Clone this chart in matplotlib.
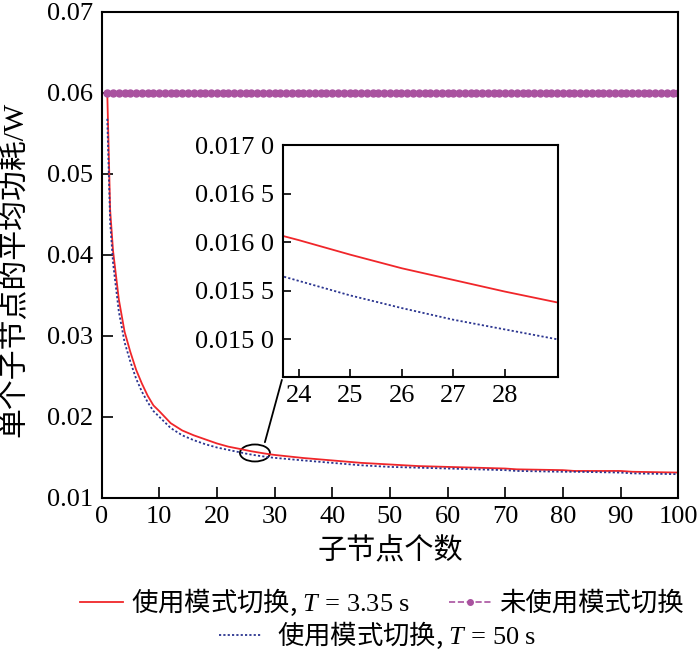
import numpy as np
import matplotlib
matplotlib.use("Agg")
import matplotlib.pyplot as plt
from matplotlib.patches import Ellipse
from matplotlib.lines import Line2D
from matplotlib.font_manager import FontProperties

plt.rcParams['font.family'] = ['Liberation Serif', 'Noto Sans CJK SC']
plt.rcParams['mathtext.fontset'] = 'custom'
plt.rcParams['mathtext.rm'] = 'Noto Sans CJK SC'
plt.rcParams['mathtext.sf'] = 'Liberation Serif'
plt.rcParams['mathtext.it'] = 'Liberation Serif:italic'

# node count (x) and average power per node (W)
nodes = [1, 1.5, 2, 3, 4, 5, 6, 7, 8, 9, 10, 12, 14, 16, 18, 20, 22, 24, 25, 26, 27,
         28, 29, 30, 35, 40, 45, 50, 55, 60, 65, 70, 72, 80, 82, 90, 92, 100]
p_switch_335 = [0.0600, 0.0455, 0.0405, 0.0345, 0.0305, 0.0280, 0.0258, 0.0241, 0.0226,
                0.0214, 0.0207, 0.0192, 0.0183, 0.0177, 0.0172, 0.0167, 0.0163, 0.01602,
                0.01587, 0.01573, 0.01561, 0.01549, 0.01538, 0.01528, 0.0149, 0.0146,
                0.0143, 0.0141, 0.0139, 0.0138, 0.0137, 0.0136, 0.0135, 0.0134, 0.0133,
                0.0133, 0.0132, 0.0131]
p_switch_50 = [0.0568, 0.0440, 0.0390, 0.0330, 0.0292, 0.0268, 0.0247, 0.0231, 0.0218,
               0.0207, 0.0200, 0.0186, 0.0177, 0.0171, 0.0166, 0.0162, 0.0159, 0.01560,
               0.01545, 0.01532, 0.01520, 0.01510, 0.01500, 0.01492, 0.0146, 0.0143,
               0.0140, 0.0138, 0.0137, 0.0136, 0.0135, 0.0134, 0.0133, 0.0132, 0.0132,
               0.0131, 0.0130, 0.0129]
nodes_noswitch = list(range(1, 101))
p_noswitch = [0.06] * 100

inset_yticks = [0.0150, 0.0155, 0.0160, 0.0165, 0.0170]
inset_ylabels = ['0.015 0', '0.015 5', '0.016 0', '0.016 5', '0.017 0']

c_red = '#f0262a'
c_blue = '#2b3590'
c_purple = '#a9529f'
fs = 19

fig = plt.figure(figsize=(7.0, 6.52), dpi=100)
ax = fig.add_axes([0.145, 0.2367, 0.824, 0.745])
ax.plot(nodes, p_switch_335, color=c_red, lw=1.3)
ax.plot(nodes, p_switch_50, color=c_blue, lw=1.3, ls=(0, (1.2, 1.2)))
ax.plot(nodes_noswitch, p_noswitch, color=c_purple, lw=1.2, ls='--',
        marker='o', ms=5, mec=c_purple, mfc=c_purple)
ax.set_xlim(0, 100)
ax.set_ylim(0.01, 0.07)
ax.set_xticks(range(0, 101, 10))
ax.set_yticks([0.01, 0.02, 0.03, 0.04, 0.05, 0.06, 0.07])
ax.set_yticklabels(['0.01', '0.02', '0.03', '0.04', '0.05', '0.06', '0.07'])
ax.tick_params(direction='in', length=8, width=1.2, labelsize=fs, pad=6)
for s in ax.spines.values():
    s.set_linewidth(1.5)
ax.set_xlabel('子节点个数', fontsize=21, labelpad=7)
ax.set_ylabel('单个子节点的平均功耗/W', fontsize=21.5)
ax.yaxis.set_label_coords(-0.126, 0.469)

# zoom marker
ax.add_patch(Ellipse((26.6, 0.01552), 5.2, 0.0021, fill=False, ec='black', lw=1.3))
ax.annotate('', xy=(0.314, 0.248), xycoords='axes fraction',
            xytext=(28.2, 0.01652), textcoords='data',
            arrowprops=dict(arrowstyle='-', color='black', lw=1.3))

ins = fig.add_axes([0.404, 0.4218, 0.393, 0.3558])
ins.plot(nodes, p_switch_335, color=c_red, lw=1.3)
ins.plot(nodes, p_switch_50, color=c_blue, lw=1.3, ls=(0, (1.2, 1.2)))
ins.set_xlim(23.69, 29.03)
ins.set_ylim(0.01461, 0.0170)
ins.set_xticks([24, 25, 26, 27, 28])
ins.set_yticks(inset_yticks)
ins.set_yticklabels(inset_ylabels)
ins.tick_params(direction='in', length=6, width=1.2, labelsize=fs, pad=6)
for s in ins.spines.values():
    s.set_linewidth(1.5)

h1 = Line2D([], [], color=c_red, lw=1.3)
h2 = Line2D([], [], color=c_purple, lw=1.2, ls='--', marker='o', ms=4)
h3 = Line2D([], [], color=c_blue, lw=1.3, ls=(0, (1.2, 1.2)))
lab1 = r'使用模式切换, $T\mathsf{\,=\,3.35\ s}$'
lab3 = r'使用模式切换, $T\mathsf{\,=\,50\ s}$'
legprop = FontProperties(family='Noto Sans CJK SC', size=19)
fig.legend([h1, h2], [lab1, '未使用模式切换'], prop=legprop,
           ncol=2, loc='center', bbox_to_anchor=(0.546, 0.076), frameon=False,
           handlelength=1.6, handletextpad=0.3, columnspacing=1.5,
           borderpad=0, borderaxespad=0)
fig.legend([h3], [lab3], loc='center', prop=legprop,
           bbox_to_anchor=(0.539, 0.025), frameon=False,
           handlelength=1.6, handletextpad=0.6, borderpad=0, borderaxespad=0)

fig.savefig('out.png', dpi=100)
